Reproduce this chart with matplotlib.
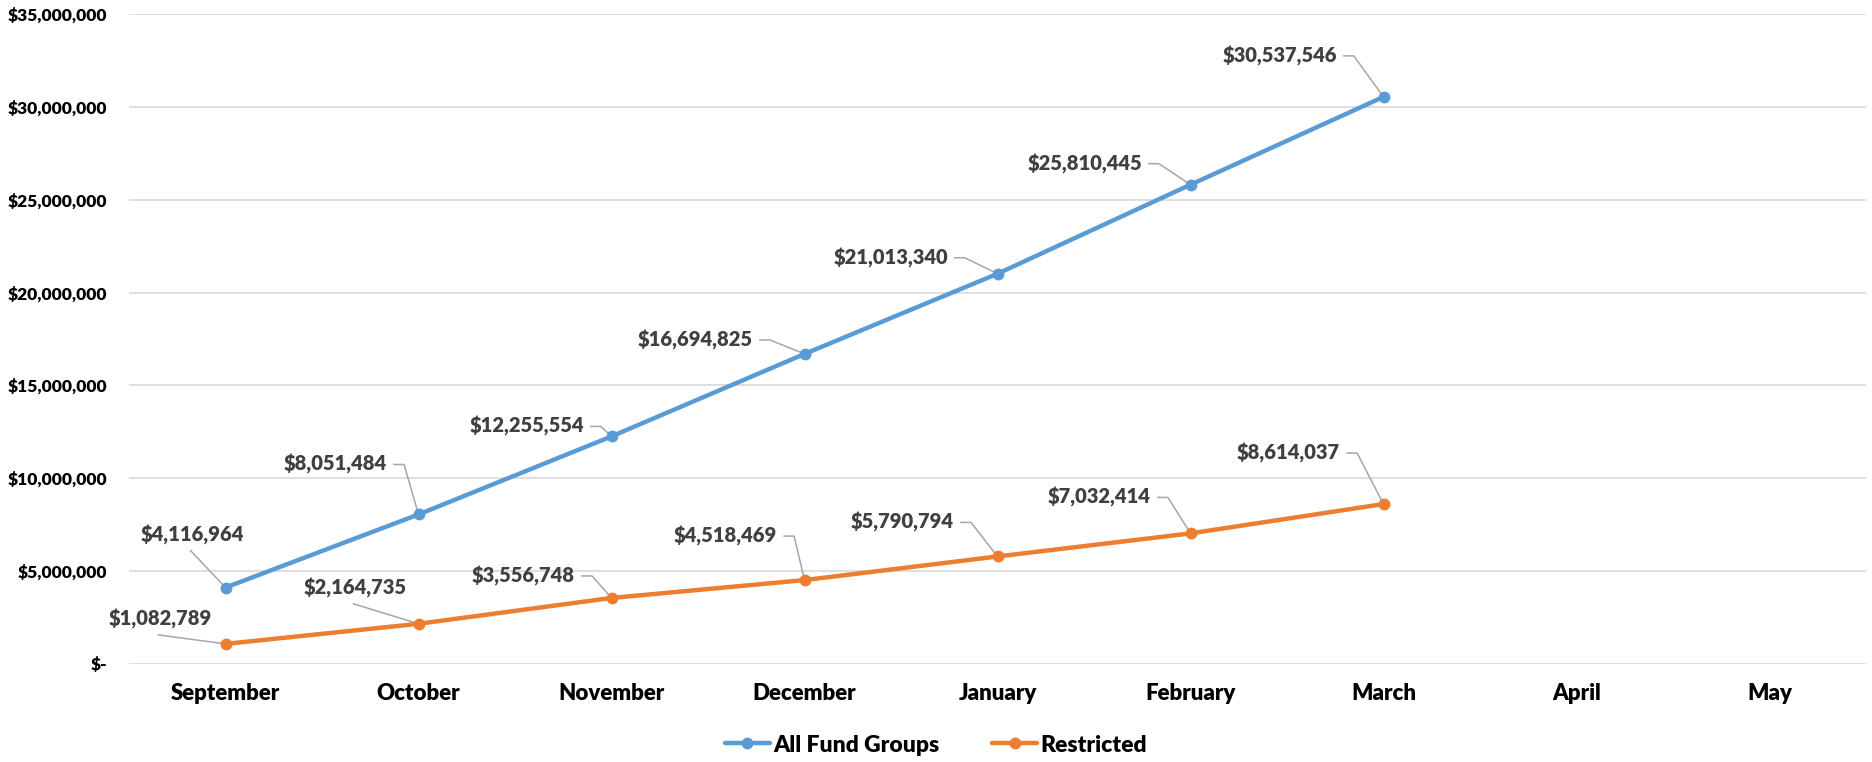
import matplotlib
matplotlib.use("Agg")
import matplotlib.pyplot as plt
from matplotlib.ticker import FuncFormatter
from matplotlib.font_manager import FontProperties

plt.rcParams['font.family'] = ['Lato', 'DejaVu Sans']

months = ["September", "October", "November", "December", "January",
          "February", "March", "April", "May"]
all_fund = [4116964, 8051484, 12255554, 16694825, 21013340, 25810445, 30537546]
restricted = [1082789, 2164735, 3556748, 4518469, 5790794, 7032414, 8614037]

# label offsets in pixels (dx, dy up) and leader attachment ('b' bottom, 'r' right)
all_off = [(-33, 53), (-83, 50), (-85, 10), (-109, 14), (-107, 16), (-106, 21), (-104, 41)]
all_mode = ['b', 'r', 'r', 'r', 'r', 'r', 'r']
res_off = [(-65, 25), (-63, 36), (-88, 22), (-79, 44), (-95, 34), (-91, 36), (-95, 51)]
res_mode = ['b', 'b', 'r', 'r', 'r', 'r', 'r']

BLUE = "#5b9bd5"
ORANGE = "#ed7d31"

def fp(size):
    return FontProperties(family=['Lato', 'DejaVu Sans'], weight='heavy', size=size)

fig = plt.figure(figsize=(18.72, 7.62), dpi=100)
ax = fig.add_axes([129/1872, 1-664/762, (1866-129)/1872, (664-14)/762])

x = list(range(len(months)))
ax.plot(x[:len(all_fund)], all_fund, color=BLUE, lw=3.2, marker='o', ms=7.5,
        label="All Fund Groups", solid_capstyle='round', zorder=3)
ax.plot(x[:len(restricted)], restricted, color=ORANGE, lw=3.2, marker='o', ms=7.5,
        label="Restricted", solid_capstyle='round', zorder=3)

ax.set_xlim(-0.5, len(months) - 0.5)
ax.set_ylim(0, 35000000)

texts = []
def annotate(vals, offs, modes):
    for i, (v, (dx, dy), m) in enumerate(zip(vals, offs, modes)):
        t = ax.annotate(f"${v:,.0f}", xy=(i, v), xytext=(dx, dy), textcoords='offset pixels',
                        ha='center', va='center', fontproperties=fp(14.5),
                        color='#404040', zorder=4)
        texts.append((t, i, v, m))

annotate(all_fund, all_off, all_mode)
annotate(restricted, res_off, res_mode)

ax.set_yticks(range(0, 35000001, 5000000))
ax.yaxis.set_major_formatter(FuncFormatter(lambda v, p: "$-" if v == 0 else f"${v:,.0f}"))
ax.set_xticks(x)
ax.set_xticklabels(months)
for s in ax.spines.values():
    s.set_visible(False)
ax.grid(axis='y', color='#d9d9d9', lw=1.2)
ax.set_axisbelow(True)
ax.tick_params(axis='both', length=0)
ax.tick_params(axis='y', pad=16)
ax.tick_params(axis='x', pad=14)
for t in ax.get_yticklabels():
    t.set_fontproperties(fp(12.5))
    t.set_color('black')
for t in ax.get_xticklabels():
    t.set_fontproperties(fp(16))
    t.set_color('black')

leg = fig.legend(loc='center', bbox_to_anchor=(0.5, 1-745/762), ncol=2, frameon=False,
                 prop=fp(16.5), handlelength=1.95,
                 columnspacing=2.3, handletextpad=0.15)

# leader lines computed from rendered label extents
fig.canvas.draw()
r = fig.canvas.get_renderer()
inv = ax.transData.inverted()
for t, i, v, m in texts:
    bb = t.get_window_extent(r)
    px, py = ax.transData.transform((i, v))
    if m == 'r':
        cy = (bb.y0 + bb.y1) / 2
        pts = [(bb.x1 + 7, cy), (bb.x1 + 17, cy), (px, py)]
    else:
        cx = (bb.x0 + bb.x1) / 2
        pts = [(cx - 2, bb.y0 - 6), (px, py)]
    dpts = inv.transform(pts)
    ax.plot(dpts[:, 0], dpts[:, 1], color='#a6a6a6', lw=1.1, zorder=2.5)

fig.savefig("out.png", dpi=100)
